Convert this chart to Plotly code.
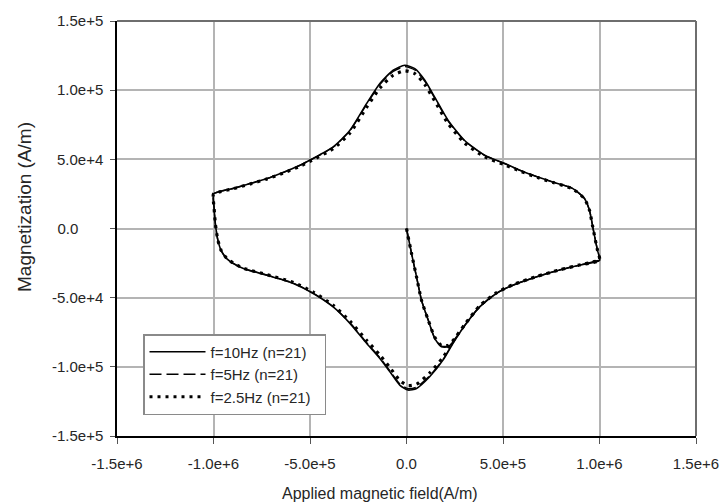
import plotly.graph_objects as go

# ---- data ----
H = [
    0, 2.6e4, 5.2e4, 7.8e4, 1.12e5, 1.46e5, 1.81e5, 2.15e5, 2.41e5,
    3.1e5, 3.79e5, 4.65e5, 5.51e5, 6.72e5, 7.93e5, 8.96e5, 1.0e6,
    9.9e5, 9.82e5, 9.65e5, 9.48e5, 9.22e5, 8.6e5,
    7.6e5, 6.8e5, 5.9e5, 5.1e5, 4.05e5, 3.0e5, 2.15e5, 1.46e5, 9.5e4, 4.3e4, -9e3,
    -6.9e4, -1.38e5, -2.07e5, -2.93e5, -3.8e5, -4.95e5, -5.52e5, -6.4e5, -7.25e5, -8.1e5, -8.97e5, -9.6e5, -1.0e6,
    -9.97e5, -9.9e5, -9.78e5, -9.6e5, -9.3e5, -8.97e5, -8.45e5, -7.24e5, -5.86e5, -4.83e5, -3.8e5, -2.93e5,
    -2.07e5, -1.38e5, -8.6e4, -3.5e4, 8e3,
    5.2e4, 1.2e5, 1.9e5, 2.41e5, 3.1e5, 3.79e5, 4.65e5, 5.51e5, 6.72e5, 7.93e5, 8.96e5, 1.0e6,
]

M_10Hz = [
    0, -1.8e4, -3.5e4, -5.2e4, -6.6e4, -7.95e4, -8.55e4, -8.55e4, -8.2e4,
    -6.86e4, -5.67e4, -4.7e4, -4.1e4, -3.5e4, -3.0e4, -2.65e4, -2.3e4,
    -1.6e4, -1.08e4, 1.2e3, 1.32e4, 2.17e4, 2.9e4,
    3.35e4, 3.73e4, 4.2e4, 4.7e4, 5.3e4, 6.38e4, 7.83e4, 9.5e4, 1.072e5, 1.156e5, 1.18e5,
    1.144e5, 1.048e5, 9.03e4, 7.1e4, 5.9e4, 4.99e4, 4.57e4, 4.05e4, 3.6e4, 3.25e4, 2.9e4, 2.7e4, 2.5e4,
    1.5e4, 3e3, -8e3, -1.6e4, -2.2e4, -2.53e4, -2.9e4, -3.37e4, -3.97e4, -4.7e4, -5.67e4, -6.86e4,
    -8.3e4, -9.4e4, -1.036e5, -1.132e5, -1.168e5,
    -1.156e5, -1.072e5, -9.5e4, -8.3e4, -6.86e4, -5.67e4, -4.7e4, -4.1e4, -3.5e4, -3.0e4, -2.65e4, -2.3e4,
]

M_5Hz = [
    0, -1.8e4, -3.5e4, -5.2e4, -6.6e4, -7.9e4, -8.5e4, -8.5e4, -8.15e4,
    -6.85e4, -5.66e4, -4.7e4, -4.1e4, -3.5e4, -3.0e4, -2.65e4, -2.3e4,
    -1.6e4, -1.08e4, 1.2e3, 1.32e4, 2.17e4, 2.9e4,
    3.35e4, 3.72e4, 4.2e4, 4.68e4, 5.28e4, 6.35e4, 7.78e4, 9.43e4, 1.063e5, 1.146e5, 1.17e5,
    1.135e5, 1.04e5, 8.97e4, 7.06e4, 5.87e4, 4.97e4, 4.56e4, 4.04e4, 3.6e4, 3.25e4, 2.9e4, 2.7e4, 2.5e4,
    1.5e4, 3e3, -8e3, -1.6e4, -2.2e4, -2.53e4, -2.9e4, -3.36e4, -3.95e4, -4.68e4, -5.64e4, -6.82e4,
    -8.24e4, -9.33e4, -1.028e5, -1.122e5, -1.158e5,
    -1.147e5, -1.065e5, -9.45e4, -8.26e4, -6.84e4, -5.66e4, -4.7e4, -4.1e4, -3.5e4, -3.0e4, -2.65e4, -2.3e4,
]

M_2_5Hz = [
    0, -1.8e4, -3.5e4, -5.2e4, -6.6e4, -7.85e4, -8.45e4, -8.45e4, -8.1e4,
    -6.8e4, -5.6e4, -4.65e4, -4.07e4, -3.48e4, -2.99e4, -2.64e4, -2.3e4,
    -1.6e4, -1.08e4, 1.2e3, 1.32e4, 2.15e4, 2.87e4,
    3.32e4, 3.68e4, 4.14e4, 4.6e4, 5.18e4, 6.2e4, 7.6e4, 9.22e4, 1.04e5, 1.12e5, 1.14e5,
    1.108e5, 1.015e5, 8.75e4, 6.9e4, 5.77e4, 4.9e4, 4.5e4, 4.0e4, 3.57e4, 3.22e4, 2.88e4, 2.68e4, 2.5e4,
    1.5e4, 3e3, -8e3, -1.6e4, -2.18e4, -2.5e4, -2.87e4, -3.33e4, -3.9e4, -4.6e4, -5.55e4, -6.7e4,
    -8.08e4, -9.15e4, -1.005e5, -1.098e5, -1.135e5,
    -1.125e5, -1.045e5, -9.3e4, -8.15e4, -6.78e4, -5.6e4, -4.66e4, -4.07e4, -3.48e4, -2.99e4, -2.64e4, -2.3e4,
]

series_names = ["f=10Hz (n=21)", "f=5Hz (n=21)", "f=2.5Hz (n=21)"]

x_tick_vals = [-1.5e6, -1.0e6, -5.0e5, 0.0, 5.0e5, 1.0e6, 1.5e6]
x_tick_labels = ["-1.5e+6", "-1.0e+6", "-5.0e+5", "0.0", "5.0e+5", "1.0e+6", "1.5e+6"]
y_tick_vals = [-1.5e5, -1.0e5, -5.0e4, 0.0, 5.0e4, 1.0e5, 1.5e5]
y_tick_labels = ["-1.5e+5", "-1.0e+5", "-5.0e+4", "0.0", "5.0e+4", "1.0e+5", "1.5e+5"]

x_title = "Applied magnetic field(A/m)"
y_title = "Magnetization (A/m)"

# ---- figure ----
FONT = "Liberation Sans, Arial, sans-serif"
TXT = "#262626"

fig = go.Figure()
styles = [
    dict(color="black", width=1.6, dash="solid"),
    dict(color="black", width=1.4, dash="12px,5px"),
    dict(color="black", width=3.2, dash="3px,5px"),
]
for name, m, st, g in zip(series_names, [M_10Hz, M_5Hz, M_2_5Hz], styles, ["a", "b", "c"]):
    fig.add_trace(go.Scatter(
        x=H, y=m, mode="lines", name=name + "\u00a0\u00a0", legendgroup=g,
        line=dict(shape="spline", smoothing=0.6, **st),
    ))

# the y-axis "0.0" label sits further left than the others in the reference
y_text = [t + ("\u00a0" * 6 if t == "0.0" else "") for t in y_tick_labels]

W, Hh = 724, 504
L, T = 117, 21
PW, PH = 579, 415

fig.update_layout(
    width=W, height=Hh,
    margin=dict(l=L, r=W - L - PW, t=T, b=Hh - T - PH, autoexpand=False),
    paper_bgcolor="white", plot_bgcolor="white",
    font=dict(family=FONT, size=15, color=TXT),
    showlegend=True,
    legend=dict(
        x=(143 - 117) / PW, y=(436 - 415) / PH, xanchor="left", yanchor="bottom",
        bgcolor="white", bordercolor="#8a8a8a", borderwidth=1.5,
        font=dict(family=FONT, size=15, color=TXT),
        itemwidth=56, tracegroupgap=2,
        traceorder="normal",
    ),
    xaxis=dict(
        range=[-1.5e6, 1.5e6], tickmode="array", tickvals=x_tick_vals, ticktext=x_tick_labels,
        showgrid=True, gridcolor="#b4b4b4", gridwidth=1.5, zeroline=False,
        showline=True, linecolor="black", linewidth=1.5,
        ticks="outside", ticklen=6, tickcolor="#555", tickwidth=1.2,
        ticklabelstandoff=7,
        tickfont=dict(family=FONT, size=15, color=TXT),
    ),
    yaxis=dict(
        range=[-1.5e5, 1.5e5], tickmode="array", tickvals=y_tick_vals, ticktext=y_text,
        showgrid=True, gridcolor="#b4b4b4", gridwidth=1.5, zeroline=False,
        showline=True, linecolor="black", linewidth=1.5,
        ticks="outside", ticklen=5, tickcolor="#555", tickwidth=1.2,
        ticklabelstandoff=4,
        tickfont=dict(family=FONT, size=15, color=TXT),
    ),
    shapes=[
        dict(type="line", xref="paper", yref="paper", x0=0, x1=1, y0=1, y1=1,
             line=dict(color="#6e6e6e", width=2)),
        dict(type="line", xref="paper", yref="paper", x0=1, x1=1, y0=0, y1=1,
             line=dict(color="#6e6e6e", width=2)),
    ],
    annotations=[
        dict(text=x_title, xref="paper", yref="paper", x=(380 - 117) / PW, y=-(493 - 436) / PH,
             xanchor="center", yanchor="middle", showarrow=False,
             font=dict(family=FONT, size=16, color=TXT)),
        dict(text=y_title, xref="paper", yref="paper", x=-(117 - 25) / PW, y=(436 - 207) / PH,
             xanchor="center", yanchor="middle", showarrow=False, textangle=-90,
             font=dict(family=FONT, size=19, color=TXT)),
    ],
)

# remove the browser's default 8px body margin so the 724x504 figure fills the window exactly
fig.write_html(
    "out.html",
    config={"displayModeBar": False},
    post_script="document.body.style.margin='0';document.body.style.overflow='hidden';",
)
